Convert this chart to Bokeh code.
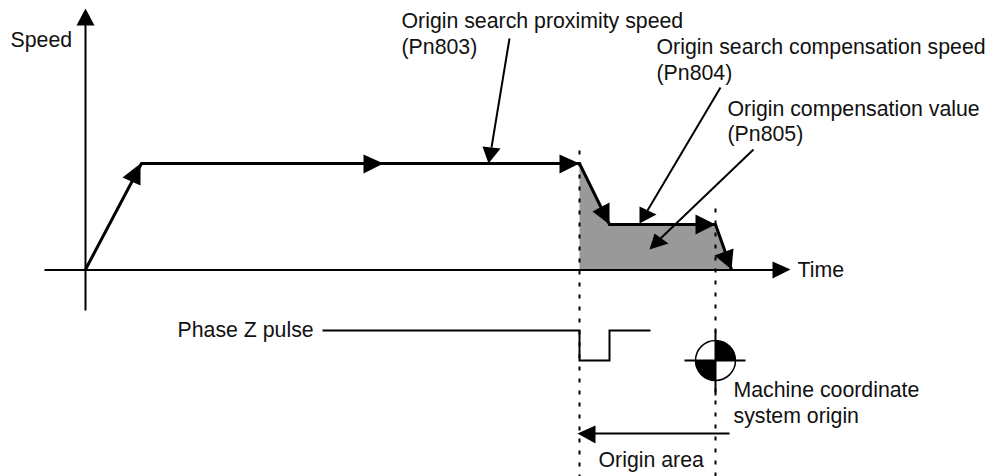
from bokeh.plotting import figure
from bokeh.models import Range1d
from bokeh.core.properties import value
from bokeh.embed import file_html
from bokeh.resources import INLINE
import math

speed_x = [85, 141, 579, 609, 715, 731]
speed_y = [269, 163, 163, 224, 224, 269]
area_x = [579, 609, 715, 731, 579]
area_y = [163, 224, 224, 269, 269]
pulse_x = [322, 579, 579, 609, 609, 650]
pulse_y = [330, 330, 360, 360, 330, 330]

arrow_xs = [
    [85, 76, 94], [790, 772, 772],
    [140, 122, 140], [383, 363, 363], [579, 559, 559], [592, 609, 609],
    [639, 639, 656], [715, 695, 695], [649, 654, 668], [714, 733, 731],
    [488, 482, 500], [577, 595, 595],
]
arrow_ys = [
    [8, 25, 25], [269, 261, 278],
    [163, 177, 185], [163, 154, 173], [163, 154, 173], [211, 202, 224],
    [223, 206, 214], [224, 214, 234], [249, 233, 243], [255, 248, 269],
    [163, 146, 148], [433, 425, 443],
]
leader_xs = [[509, 491], [720, 647], [753, 660]]
leader_ys = [[38, 147], [87, 210], [149, 238]]

labels = ["Speed", "Origin search proximity speed", "(Pn803)",
          "Origin search compensation speed", "(Pn804)",
          "Origin compensation value", "(Pn805)", "Time", "Phase Z pulse",
          "Machine coordinate", "system origin", "Origin area"]
label_x = [10, 401, 401, 656, 656, 727, 727, 797, 177, 733, 733, 598]
label_y = [39, 20, 46, 46, 72, 108, 133, 269, 329, 389, 415, 459]

W, H = 997, 476
p = figure(width=W, height=H, output_backend="svg", toolbar_location=None,
           x_range=Range1d(0, W), y_range=Range1d(H, 0),
           min_border=0, outline_line_color=None, x_axis_type=None, y_axis_type=None)
p.grid.visible = False
p.background_fill_color = "white"

p.patch(area_x, area_y, fill_color="#999999", line_color=None)
p.multi_line([[579, 579], [715, 715]], [[150, 476], [208, 476]],
             line_color="black", line_width=2, line_dash="4 8")
p.line([85, 85], [20, 310], line_color="black", line_width=2)
p.line([44, 780], [269.5, 269.5], line_color="black", line_width=2)
p.line(speed_x, speed_y, line_color="black", line_width=3, line_join="miter")
p.line(pulse_x, pulse_y, line_color="black", line_width=2, line_join="miter")
p.multi_line(leader_xs, leader_ys, line_color="black", line_width=2)
p.line([590, 729], [433, 433], line_color="black", line_width=2)
p.patches(arrow_xs, arrow_ys, fill_color="black", line_color=None)

# machine origin symbol
p.circle([715], [360], radius=20, fill_color="white", line_color="black", line_width=1.5)
p.wedge([715, 715], [360, 360], radius=20, start_angle=[0, math.pi],
        end_angle=[math.pi / 2, 3 * math.pi / 2], fill_color="black", line_color=None)
p.line([684, 745], [360, 360], line_color="black", line_width=2)
p.line([715, 715], [330, 395], line_color="black", line_width=2)

p.text(label_x, label_y, text=labels, text_font=value("Liberation Sans"),
       text_font_size="21.3px", text_color="#111111", text_baseline="middle", text_align="left")

open("out.html", "w").write(file_html(p, INLINE))
